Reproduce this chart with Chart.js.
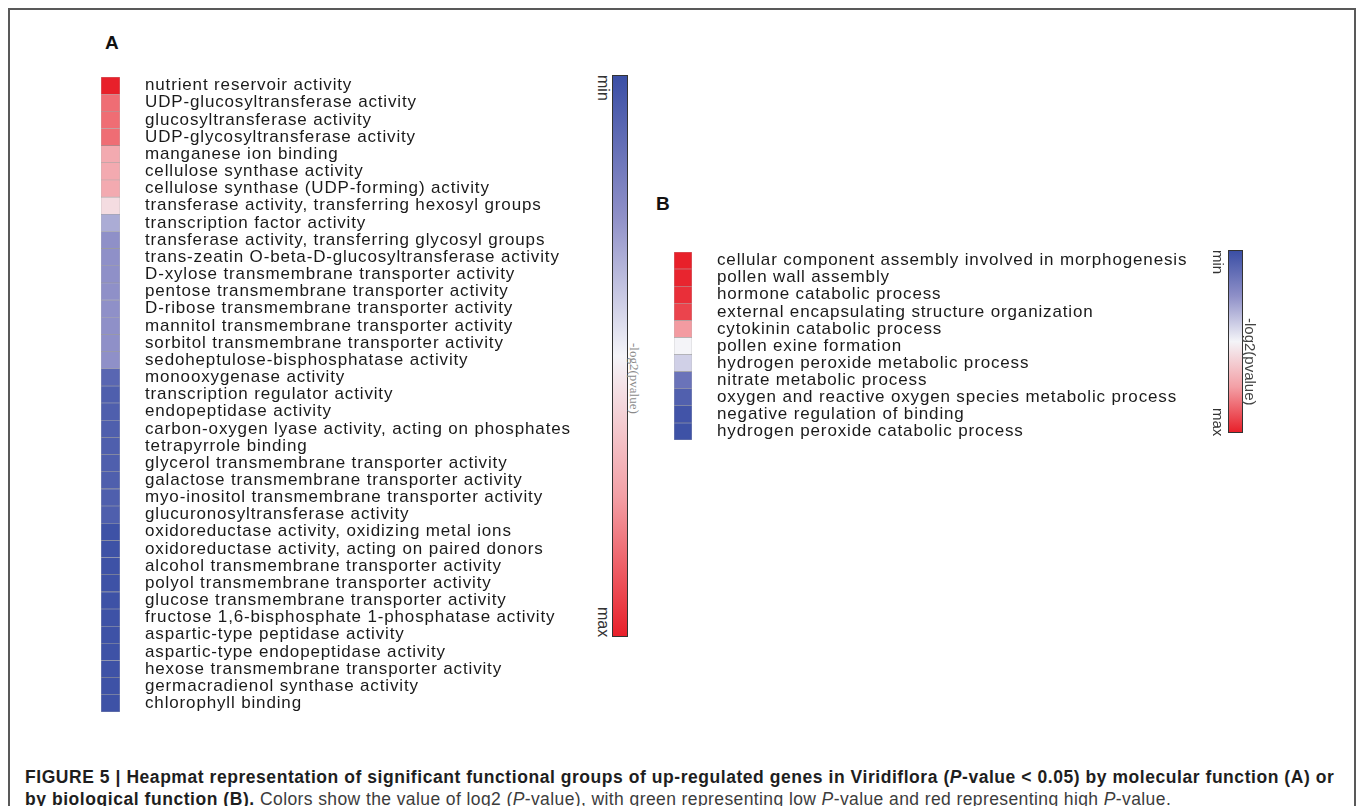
<!DOCTYPE html>
<html>
<head>
<meta charset="utf-8">
<script src="https://cdn.jsdelivr.net/npm/chart.js@4.4.1/dist/chart.umd.min.js"></script>
<style>
  body { margin: 0; background: #fff; width: 1358px; height: 806px; overflow: hidden; position: relative;
         font-family: "Liberation Sans", Arial, sans-serif; }
  .frame { position: absolute; left: 8px; top: 8px; width: 1348px; height: 900px; border: 2px solid #595959; box-sizing: border-box; }
  .abs { position: absolute; }
  .panel { font-weight: bold; font-size: 19px; line-height: 19px; color: #111; }
  .bar { border: 1px solid #333; box-sizing: border-box;
         background: linear-gradient(to bottom, #3b4fa5 0%, #8f90c8 25%, #f4f4f8 50%, #f3a0a6 75%, #e8202a 100%); }
  .rot { transform: rotate(90deg); transform-origin: 0 0; white-space: nowrap; }
  .cap { left: 25px; top: 767px; font-size: 17.5px; line-height: 21.5px; color: #3c3c3c; white-space: nowrap; letter-spacing: 0.4px; }
  .cap b { color: #1e1e1e; letter-spacing: 0.55px; }
</style>
</head>
<body>
<div class="frame"></div>

<div class="abs panel" style="left:105px; top:33px;">A</div>
<div class="abs panel" style="left:656px; top:194px;">B</div>

<div class="abs" style="left:101px; top:77px;"><canvas id="chartA" width="479" height="635"></canvas></div>
<div class="abs" style="left:674px; top:252px;"><canvas id="chartB" width="558" height="188"></canvas></div>

<!-- colour keys -->
<div class="abs bar" style="left:612px; top:75px; width:16px; height:562px;"></div>
<div class="abs rot" style="left:611px; top:75px; font-size:16px; line-height:16px; color:#333;">min</div>
<div class="abs rot" style="left:611px; top:607px; font-size:16px; line-height:16px; color:#333;">max</div>
<div class="abs rot" style="left:641px; top:343px; font-family:'Liberation Serif',serif; font-size:13px; line-height:13px; color:#8a8a8a;">-log2(pvalue)</div>

<div class="abs bar" style="left:1228px; top:250px; width:15px; height:183px;"></div>
<div class="abs rot" style="left:1226px; top:250px; font-size:15px; line-height:15px; color:#333;">min</div>
<div class="abs rot" style="left:1226px; top:408px; font-size:15px; line-height:15px; color:#333;">max</div>
<div class="abs rot" style="left:1258px; top:318px; font-size:15px; line-height:15px; color:#444;">-log2(pvalue)</div>

<div class="abs cap"><b>FIGURE 5 | Heapmat representation of significant functional groups of up-regulated genes in Viridiflora (<i>P</i>-value &lt; 0.05) by molecular function (A) or<br>by biological function (B).</b> Colors show the value of log2 (<i>P</i>-value), with green representing low <i>P</i>-value and red representing high <i>P</i>-value.</div>

<script>
// molecular function terms (panel A)
const labelsA = [
    'nutrient reservoir activity',
    'UDP-glucosyltransferase activity',
    'glucosyltransferase activity',
    'UDP-glycosyltransferase activity',
    'manganese ion binding',
    'cellulose synthase activity',
    'cellulose synthase (UDP-forming) activity',
    'transferase activity, transferring hexosyl groups',
    'transcription factor activity',
    'transferase activity, transferring glycosyl groups',
    'trans-zeatin O-beta-D-glucosyltransferase activity',
    'D-xylose transmembrane transporter activity',
    'pentose transmembrane transporter activity',
    'D-ribose transmembrane transporter activity',
    'mannitol transmembrane transporter activity',
    'sorbitol transmembrane transporter activity',
    'sedoheptulose-bisphosphatase activity',
    'monooxygenase activity',
    'transcription regulator activity',
    'endopeptidase activity',
    'carbon-oxygen lyase activity, acting on phosphates',
    'tetrapyrrole binding',
    'glycerol transmembrane transporter activity',
    'galactose transmembrane transporter activity',
    'myo-inositol transmembrane transporter activity',
    'glucuronosyltransferase activity',
    'oxidoreductase activity, oxidizing metal ions',
    'oxidoreductase activity, acting on paired donors',
    'alcohol transmembrane transporter activity',
    'polyol transmembrane transporter activity',
    'glucose transmembrane transporter activity',
    'fructose 1,6-bisphosphate 1-phosphatase activity',
    'aspartic-type peptidase activity',
    'aspartic-type endopeptidase activity',
    'hexose transmembrane transporter activity',
    'germacradienol synthase activity',
    'chlorophyll binding'
];
// scaled -log2(pvalue), 0 = min (blue), 1 = max (red)
const scoreA = [1.0, 0.85, 0.85, 0.85, 0.72, 0.72, 0.72, 0.57, 0.32, 0.25,
                0.25, 0.25, 0.25, 0.25, 0.25, 0.25, 0.25, 0.09, 0.06, 0.06,
                0.06, 0.06, 0.06, 0.06, 0.06, 0.06, 0.01, 0.01, 0.01, 0.01,
                0.01, 0.01, 0.01, 0.01, 0.01, 0.01, 0.01];

// biological process terms (panel B)
const labelsB = [
    'cellular component assembly involved in morphogenesis',
    'pollen wall assembly',
    'hormone catabolic process',
    'external encapsulating structure organization',
    'cytokinin catabolic process',
    'pollen exine formation',
    'hydrogen peroxide metabolic process',
    'nitrate metabolic process',
    'oxygen and reactive oxygen species metabolic process',
    'negative regulation of binding',
    'hydrogen peroxide catabolic process'
];
const scoreB = [1.0, 0.99, 0.97, 0.93, 0.76, 0.5, 0.41, 0.14, 0.065, 0.02, 0.01];

// blue - white - red key
const keyStops = [
    [0, [59, 79, 165]],
    [0.25, [143, 144, 200]],
    [0.5, [244, 244, 248]],
    [0.75, [243, 160, 166]],
    [1, [232, 32, 42]]
];

function scoreColor(v) {
    for (let i = 1; i < keyStops.length; i++) {
        const [p1, c1] = keyStops[i];
        const [p0, c0] = keyStops[i - 1];
        if (v <= p1) {
            const t = (v - p0) / (p1 - p0);
            const c = c0.map((x, k) => Math.round(x + (c1[k] - x) * t));
            return `rgb(${c[0]}, ${c[1]}, ${c[2]})`;
        }
    }
    return 'rgb(232, 32, 42)';
}

// the printed labels are a little wider than plain Arial
const wideText = {
    id: 'wideText',
    beforeDraw(chart) { chart.ctx.letterSpacing = '0.85px'; }
};

function heatmap(id, labels, scores, axisWidth) {
    const ctx = document.getElementById(id).getContext('2d');
    new Chart(ctx, {
        type: 'bar',
        data: {
            labels: labels,
            datasets: [{
                data: labels.map(() => 1),
                backgroundColor: scores.map(scoreColor),
                borderColor: 'rgba(110, 110, 110, 0.5)',
                borderWidth: 0.6,
                borderSkipped: false,
                barPercentage: 1,
                categoryPercentage: 1
            }]
        },
        options: {
            indexAxis: 'y',
            responsive: false,
            animation: false,
            events: [],
            layout: { padding: 0 },
            plugins: {
                legend: { display: false },
                tooltip: { enabled: false }
            },
            scales: {
                x: { display: false, min: 0, max: 1 },
                y: {
                    position: 'right',
                    grid: { display: false, drawTicks: false },
                    border: { display: false },
                    ticks: {
                        autoSkip: false,
                        padding: 25,
                        color: '#1a1a1a',
                        font: { family: 'Liberation Sans', size: 17, lineHeight: 1 }
                    },
                    afterFit(scale) {
                        // fixed label column, and no extra room above / below the cells
                        scale.width = axisWidth;
                        scale.paddingTop = 0;
                        scale.paddingBottom = 0;
                    }
                }
            }
        },
        plugins: [wideText]
    });
}

heatmap('chartA', labelsA, scoreA, 460);
heatmap('chartB', labelsB, scoreB, 540);
</script>
</body>
</html>
